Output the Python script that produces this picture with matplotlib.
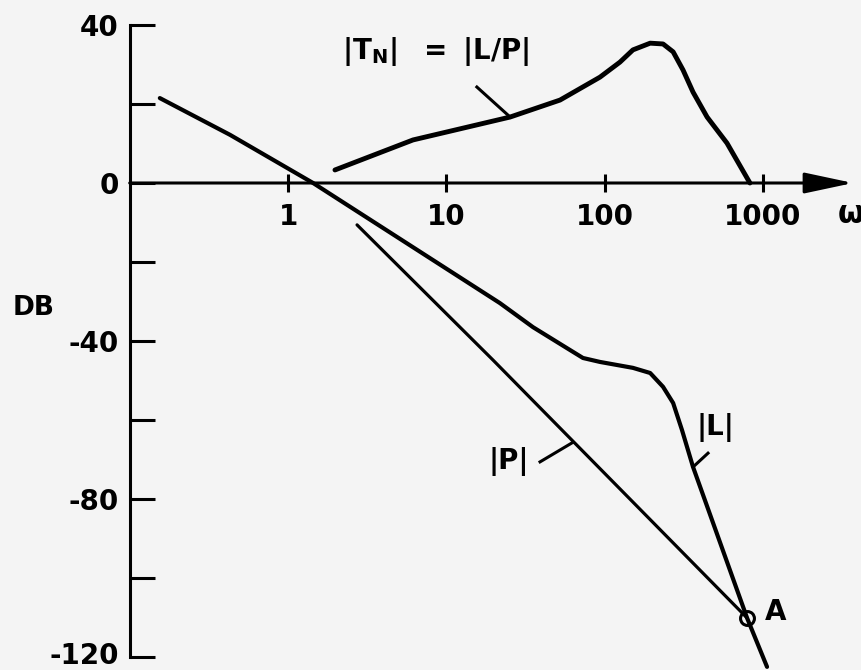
import numpy as np
import matplotlib.pyplot as plt
import matplotlib.transforms as mtransforms

plt.rcParams['font.family'] = 'DejaVu Sans'
plt.rcParams['font.weight'] = 'bold'
plt.rcParams['mathtext.fontset'] = 'dejavusans'

# |L| (loop) curve
w_L = [0.155, 0.43, 1.44, 21.8, 35.3, 57.8, 73.0, 93.5, 151, 194, 234, 271, 308, 362, 794, 1062]
db_L = [21.5, 12.2, 0, -30.4, -36.5, -41.8, -44.3, -45.3, -46.8, -48.1, -51.6, -55.7, -62.5, -71.9, -110.1, -122.5]

# |P| (plant) line
w_P = [2.73, 19.7, 794]
db_P = [-10.6, -44.8, -110.1]

# |T_N| = |L/P|
w_T = [1.98, 6.16, 25.3, 52.3, 93.5, 125, 151, 194, 234, 271, 313, 362, 444, 593, 828]
db_T = [3.3, 10.9, 16.7, 21.0, 26.8, 30.6, 33.7, 35.4, 35.2, 33.2, 28.6, 23.0, 16.7, 10.1, 0]

# point A
w_A = 794
db_A = -110.1

yticks = [40, 20, 0, -20, -40, -60, -80, -100, -120]
ylabels = ['40', '', '0', '', '-40', '', '-80', '', '-120']
xticks = [1, 10, 100, 1000]
xlabels = ['1', '10', '100', '1000']

bg = '#f4f4f4'
fig = plt.figure(figsize=(8.62, 6.70), dpi=100, facecolor=bg)
ax = fig.add_axes([129.7/862, 13/670, 1 - 129.7/862, 632/670])
ax.set_facecolor(bg)

ax.set_xscale('log')
ax.set_xlim(0.1, 10**3.626)
ax.set_ylim(-120, 40)

for s in ['top', 'right', 'bottom']:
    ax.spines[s].set_visible(False)
ax.spines['left'].set_linewidth(2.2)
ax.spines['bottom'].set_position(('data', 0))

ax.set_yticks(yticks)
ax.set_yticklabels(ylabels, fontsize=20, fontweight='bold')
ax.tick_params(axis='y', direction='in', length=18, width=2.2, pad=8)
for lab in ax.get_yticklabels():
    lab.set_verticalalignment('center_baseline')
# nudge the bottom label up a little so it stays inside the picture
nudge = mtransforms.ScaledTranslation(0, 4/100, fig.dpi_scale_trans)
ax.yaxis.get_major_ticks()[-1].label1.set_transform(
    ax.yaxis.get_major_ticks()[-1].label1.get_transform() + nudge)
ax.set_xticks(xticks)
ax.set_xticklabels(xlabels, fontsize=20, fontweight='bold')
ax.xaxis.set_minor_locator(plt.NullLocator())
ax.tick_params(axis='x', direction='inout', length=13, width=2.2, pad=8)

# w axis with arrow
ax.annotate('', xy=(10**3.57, 0), xytext=(0.1, 0),
            arrowprops=dict(arrowstyle='-|>,head_length=1.5,head_width=0.32',
                            lw=2.2, color='black', mutation_scale=20,
                            shrinkA=0, shrinkB=0))

# curves
ax.plot(w_L, db_L, '-', color='black', lw=3, solid_joinstyle='round', solid_capstyle='round', clip_on=False)
ax.plot(w_P, db_P, '-', color='black', lw=2.3, solid_capstyle='round', clip_on=False)
ax.plot(w_T, db_T, '-', color='black', lw=3.5, solid_joinstyle='round', solid_capstyle='round', clip_on=False)
ax.plot([w_A], [db_A], 'o', ms=10, mfc='none', mec='black', mew=2.2, clip_on=False)

# leaders
ax.plot([15.6, 25.3], [24.3, 16.7], '-', color='black', lw=2.2)
ax.plot([39.1, 62.2], [-70.6, -65.8], '-', color='black', lw=2.2)
ax.plot([450, 362], [-68.4, -71.9], '-', color='black', lw=2.2)

# labels
ax.text(8.61, 33.2, r'$\mathbf{|T_N|\ \ =\ |L/P|}$', fontsize=20, ha='center', va='center')
ax.text(505, -61.8, '|L|', fontsize=20, ha='center', va='center')
ax.text(24.9, -70.6, '|P|', fontsize=20, ha='center', va='center')
ax.text(1210, -108.6, 'A', fontsize=20, ha='center', va='center')
ax.text(2950, -8.1, 'ω', fontsize=22, ha='left', va='center', clip_on=False)
fig.text(34/862, 1 - 308/670, 'DB', fontsize=19, ha='center', va='center')

fig.savefig('out.png', dpi=100, facecolor=bg)
